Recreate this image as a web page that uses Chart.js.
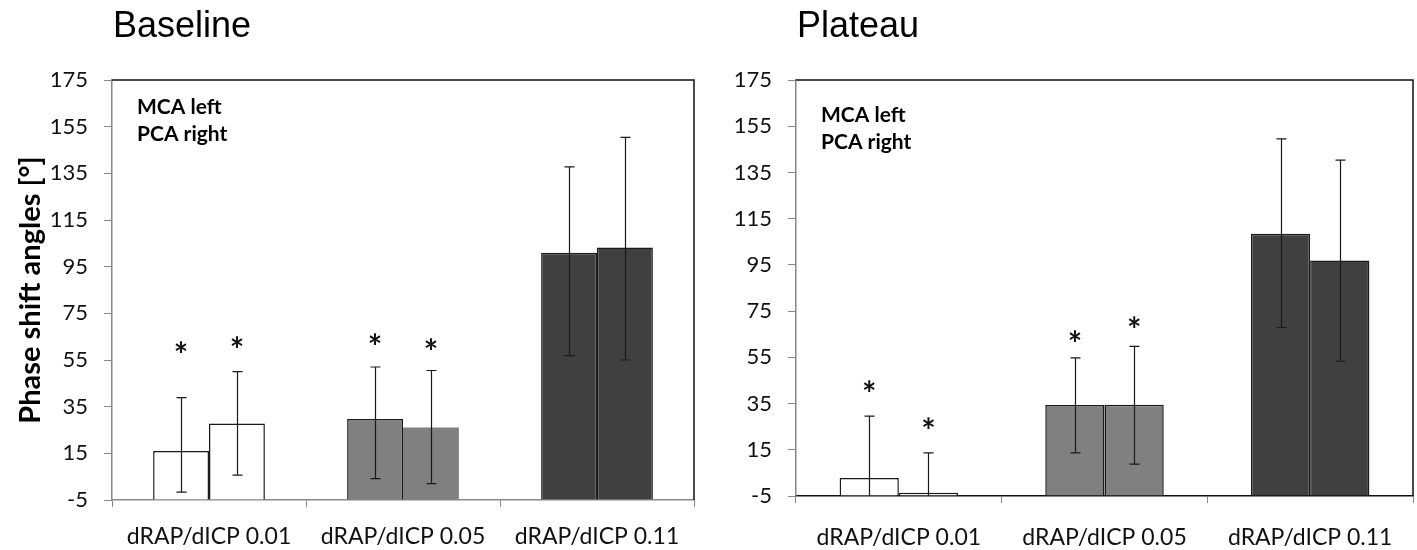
<!DOCTYPE html>
<html lang="en">
<head>
  <meta charset="UTF-8" />
  <title>Phase shift angles - Baseline / Plateau</title>
  <script src="https://cdn.jsdelivr.net/npm/chart.js"></script>
  <style>
    html, body {
      margin: 0;
      padding: 0;
      background: #ffffff;
    }
    .wrap {
      position: relative;
      width: 1417px;
      height: 550px;
      overflow: hidden;
    }
    #chartBaseline {
      position: absolute;
      left: 0;
      top: 0;
    }
    #chartPlateau {
      position: absolute;
      left: 705px;
      top: 0;
    }
  </style>
</head>
<body>
  <div class="wrap">
    <canvas id="chartBaseline" width="705" height="550"></canvas>
    <canvas id="chartPlateau" width="712" height="550"></canvas>
  </div>

  <script>
    // categories and axis
    const categories = ['dRAP/dICP 0.01', 'dRAP/dICP 0.05', 'dRAP/dICP 0.11'];
    const yMin = -5;
    const yMax = 175;
    const yStep = 20;
    const barColors = ['#ffffff', '#808080', '#404040'];
    const notes = ['MCA left', 'PCA right'];

    // Baseline
    const baseMCA = [16, 29.7, 101];
    const baseMCAHigh = [38.9, 52, 137.8];
    const baseMCALow = [-1.6, 4.2, 56.9];
    const baseMCAStar = [60, 63.5, null];
    const basePCA = [27.8, 26.1, 103.2];
    const basePCAHigh = [50, 50.5, 150.4];
    const basePCALow = [5.7, 2, 55];
    const basePCAStar = [62.5, 61.3, null];

    // Plateau
    const platMCA = [2.8, 34.4, 108.5];
    const platMCAHigh = [29.6, 54.8, 149.5];
    const platMCALow = [-24, 13.7, 67.9];
    const platMCAStar = [42.3, 64, null];
    const platPCA = [-3.6, 34.5, 96.9];
    const platPCAHigh = [13.7, 59.7, 140.3];
    const platPCALow = [-21, 8.8, 53.3];
    const platPCAStar = [26.2, 70, null];

    // error bars, asterisks, frame, title and the little note
    const extras = {
      id: 'extras',
      afterDatasetsDraw(chart) {
        const { ctx, chartArea: a, scales: { y } } = chart;
        ctx.save();
        ctx.beginPath();
        ctx.rect(a.left, a.top, a.right - a.left, a.bottom - a.top);
        ctx.clip();
        ctx.strokeStyle = '#1a1a1a';
        ctx.lineWidth = 1.2;
        chart.data.datasets.forEach((ds, i) => {
          chart.getDatasetMeta(i).data.forEach((bar, j) => {
            const x = Math.round(bar.x) + 0.5;
            const hi = y.getPixelForValue(ds.errHigh[j]);
            const lo = y.getPixelForValue(ds.errLow[j]);
            ctx.beginPath();
            ctx.moveTo(x, hi);
            ctx.lineTo(x, lo);
            ctx.moveTo(x - 5, hi);
            ctx.lineTo(x + 5, hi);
            ctx.moveTo(x - 5, lo);
            ctx.lineTo(x + 5, lo);
            ctx.stroke();
          });
        });
        ctx.restore();

        ctx.save();
        ctx.fillStyle = '#111';
        ctx.font = 'bold 34px Lato';
        ctx.textAlign = 'center';
        ctx.textBaseline = 'alphabetic';
        chart.data.datasets.forEach((ds, i) => {
          chart.getDatasetMeta(i).data.forEach((bar, j) => {
            if (ds.stars[j] == null) return;
            ctx.fillText('*', bar.x, y.getPixelForValue(ds.stars[j]) + 19);
          });
        });
        ctx.restore();
      },
      afterDraw(chart, args, opts) {
        const { ctx, chartArea: a } = chart;
        ctx.save();
        ctx.strokeStyle = '#111';
        ctx.lineWidth = 1.5;
        ctx.beginPath();
        ctx.moveTo(a.left, a.top);
        ctx.lineTo(a.right, a.top);
        ctx.lineTo(a.right, a.bottom);
        ctx.stroke();

        ctx.fillStyle = '#000';
        ctx.textBaseline = 'alphabetic';
        ctx.textAlign = 'left';
        ctx.font = '36px "Liberation Sans", Arial, sans-serif';
        ctx.fillText(opts.title, a.left + 1, 37);

        ctx.font = 'bold 21px Lato';
        ctx.textBaseline = 'middle';
        notes.forEach((t, k) => {
          ctx.fillText(t, a.left + 25, a.top + opts.noteTop + k * 27);
        });
        ctx.restore();
      }
    };

    function makeChart(id, o) {
      return new Chart(document.getElementById(id), {
        type: 'bar',
        data: {
          labels: categories,
          datasets: [
            {
              label: 'MCA left',
              data: o.mca,
              errHigh: o.mcaHigh,
              errLow: o.mcaLow,
              stars: o.mcaStar,
              base: yMin,
              backgroundColor: barColors,
              borderColor: '#1a1a1a',
              borderWidth: 1.5
            },
            {
              label: 'PCA right',
              data: o.pca,
              errHigh: o.pcaHigh,
              errLow: o.pcaLow,
              stars: o.pcaStar,
              base: yMin,
              backgroundColor: barColors,
              borderColor: '#1a1a1a',
              borderWidth: o.pcaBorder
            }
          ]
        },
        options: {
          responsive: false,
          animation: false,
          categoryPercentage: 0.576,
          barPercentage: 1.0,
          layout: { padding: { top: 80, right: o.padRight, left: 0, bottom: 0 } },
          plugins: {
            legend: { display: false },
            tooltip: { enabled: false },
            extras: { title: o.title, noteTop: o.noteTop }
          },
          scales: {
            x: {
              grid: {
                drawOnChartArea: false,
                tickLength: 7,
                color: '#888'
              },
              border: { color: o.xBorder, width: 1.5 },
              ticks: {
                color: '#111',
                padding: o.xPad,
                font: { family: 'Lato', size: 23 }
              },
              afterFit: s => { s.height = o.xHeight; }
            },
            y: {
              min: yMin,
              max: yMax,
              grid: {
                drawOnChartArea: false,
                tickLength: 8,
                color: '#888'
              },
              border: { color: '#888', width: 1.5 },
              ticks: {
                stepSize: yStep,
                color: '#111',
                padding: 16,
                font: { family: 'Lato', size: 22 }
              },
              title: {
                display: o.yTitle,
                text: 'Phase shift angles [°]',
                color: '#000',
                padding: { top: 13, bottom: 0 },
                font: { family: 'Lato', size: 29, weight: 'bold' }
              },
              afterFit: s => { s.width = o.yWidth; }
            }
          }
        },
        plugins: [extras]
      });
    }

    makeChart('chartBaseline', {
      title: 'Baseline',
      mca: baseMCA, mcaHigh: baseMCAHigh, mcaLow: baseMCALow, mcaStar: baseMCAStar,
      pca: basePCA, pcaHigh: basePCAHigh, pcaLow: basePCALow, pcaStar: basePCAStar,
      pcaBorder: [1.5, 0, 1.5],
      padRight: 11, yWidth: 112, xHeight: 50, xPad: 16,
      xBorder: '#888', yTitle: true, noteTop: 27
    });

    makeChart('chartPlateau', {
      title: 'Plateau',
      mca: platMCA, mcaHigh: platMCAHigh, mcaLow: platMCALow, mcaStar: platMCAStar,
      pca: platPCA, pcaHigh: platPCAHigh, pcaLow: platPCALow, pcaStar: platPCAStar,
      pcaBorder: 1.5,
      padRight: 4, yWidth: 91, xHeight: 54, xPad: 21,
      xBorder: '#111', yTitle: false, noteTop: 35
    });
  </script>
</body>
</html>
